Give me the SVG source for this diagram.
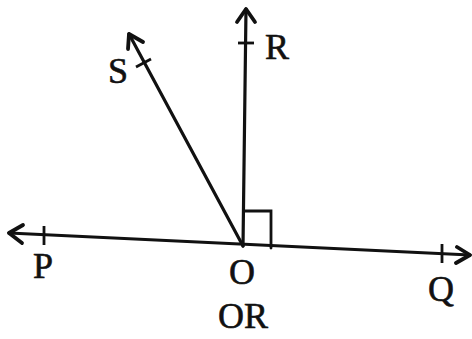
<svg xmlns="http://www.w3.org/2000/svg" width="472" height="339" viewBox="0 0 472 339">
<defs>
<style>
.ln{stroke:#111;stroke-width:3.2;fill:none;stroke-linecap:round}
.ah{stroke:#111;stroke-width:3.8;fill:none;stroke-linecap:round;stroke-linejoin:round}
.tk{stroke:#111;stroke-width:2.8}
.lb{font-family:'Liberation Serif','Times New Roman','DejaVu Serif',serif;font-size:36px;fill:#111;stroke:#111;stroke-width:0.6;text-anchor:middle}
</style>
</defs>
<rect width="472" height="339" fill="#fff"/>
<g id="connectors">
<line class="ln" x1="9" y1="233" x2="470" y2="255"/>
<line class="ln" x1="243" y1="246" x2="246" y2="9"/>
<line class="ln" x1="243" y1="246" x2="129" y2="34"/>
<polyline class="ah" points="23,225 9,233 22,243"/>
<polyline class="ah" points="457,247 470,255 456,263"/>
<polyline class="ah" points="237,22 246,9 255,22"/>
<polyline class="ah" points="128,49 129,34 143,42"/>
<polyline class="ln" points="245,211 271,211 271,248" style="stroke-width:2.8"/>
</g>
<g id="P"><line class="tk" x1="44" y1="226" x2="44" y2="245"/><text class="lb" x="43" y="278">P</text></g>
<g id="O"><text class="lb" x="242" y="284">O</text></g>
<g id="Q"><line class="tk" x1="442" y1="244" x2="442" y2="263"/><text class="lb" x="441" y="301">Q</text></g>
<g id="R"><line class="tk" x1="238" y1="43" x2="254" y2="43"/><text class="lb" x="277" y="59">R</text></g>
<g id="S"><line class="tk" x1="136" y1="67" x2="151" y2="59"/><text class="lb" x="118" y="83">S</text></g>
<g id="OR"><text class="lb" x="243" y="328">OR</text></g>
</svg>
